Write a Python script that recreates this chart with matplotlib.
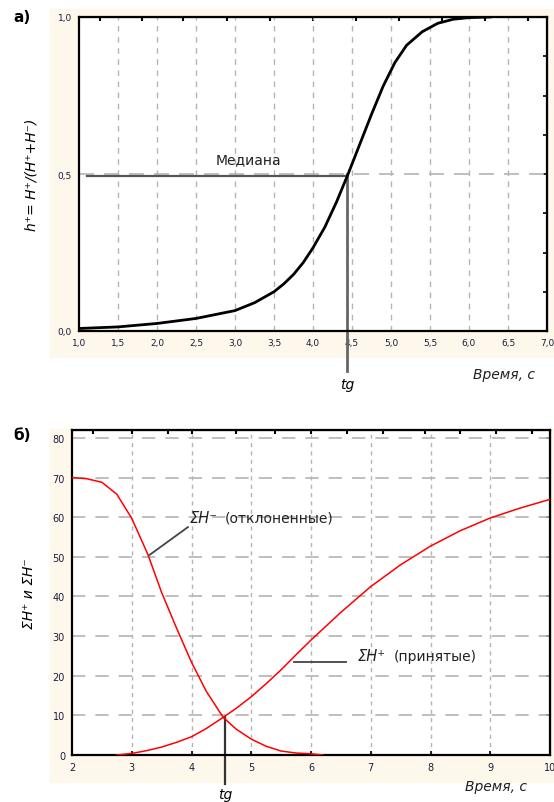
import matplotlib.pyplot as plt
from matplotlib.patches import Rectangle

# панель а) - доля принятых гипотез
t_a = [1.0, 1.5, 2.0, 2.5, 3.0, 3.25, 3.5, 3.625, 3.75, 3.875, 4.0, 4.15, 4.3, 4.45,
       4.6, 4.75, 4.9, 5.05, 5.2, 5.4, 5.6, 5.8, 6.0, 6.27]
h_a = [0.008, 0.013, 0.024, 0.04, 0.065, 0.09, 0.125, 0.15, 0.18, 0.218, 0.265, 0.33,
       0.41, 0.5, 0.595, 0.69, 0.78, 0.855, 0.91, 0.953, 0.98, 0.993, 0.998, 1.0]
tg_a = 4.44
xt_a = [1.0, 1.5, 2.0, 2.5, 3.0, 3.5, 4.0, 4.5, 5.0, 5.5, 6.0, 6.5, 7.0]
yt_a = [0.0, 0.5, 1.0]

# панель б) - суммы отклонённых и принятых
t_rej = [2.0, 2.25, 2.5, 2.75, 3.0, 3.27, 3.5, 3.75, 4.0, 4.25, 4.53, 4.75,
         5.0, 5.25, 5.5, 5.75, 6.0, 6.2]
s_rej = [70, 69.7, 68.8, 65.8, 59.7, 50.6, 41, 32, 23.4, 16, 9.5, 6.5,
         4, 2.2, 1, 0.5, 0.3, 0.0]
t_acc = [2.75, 3.0, 3.25, 3.5, 3.75, 4.0, 4.25, 4.53, 4.75, 5.0, 5.25, 5.5,
         5.75, 6.0, 6.5, 7.0, 7.5, 8.0, 8.5, 9.0, 9.5, 10.0]
s_acc = [0, 0.4, 1.1, 2, 3.2, 4.6, 6.7, 9.5, 11.8, 14.7, 18, 21.5,
         25.3, 29, 36, 42.5, 48, 52.7, 56.6, 59.8, 62.3, 64.5]
tg_b = 4.56
xt_b = [2, 3, 4, 5, 6, 7, 8, 9, 10]
yt_b = [0, 10, 20, 30, 40, 50, 60, 70, 80]

cream = '#fdf7ec'
tick_col = '#1c1c3c'
grid_col = '#b4b4b4'

fig = plt.figure(figsize=(5.54, 8.03), dpi=100)
W, H = 554, 803

# кремовые подложки под подписи осей
fig.patches.append(Rectangle((50 / W, 1 - 358 / H), 504 / W, 348 / H,
                             transform=fig.transFigure, color=cream, zorder=-5))
fig.patches.append(Rectangle((50 / W, 1 - 783 / H), 504 / W, 353 / H,
                             transform=fig.transFigure, color=cream, zorder=-5))

def comma(v):
    return ('%.1f' % v).replace('.', ',')

# ---------- а) ----------
ax1 = fig.add_axes([79 / W, 1 - 332 / H, 468 / W, 314 / H])
ax1.set_facecolor('white')
ax1.set_xlim(1, 7)
ax1.set_ylim(0, 1)
for x in xt_a[1:-1]:
    ax1.axvline(x, color=grid_col, lw=1, ls=(0, (4, 4)), zorder=1)
ax1.axhline(0.5, color=grid_col, lw=1.2, ls=(0, (9, 6)), zorder=1)
ax1.plot(t_a, h_a, color='black', lw=2, zorder=3)
ax1.plot([1.1, tg_a], [0.494, 0.494], color='#555555', lw=1.6, zorder=2)
ax1.plot([tg_a, tg_a], [0.5, -0.127], color='#666666', lw=2, zorder=2, clip_on=False)
ax1.set_xticks(xt_a)
ax1.set_xticklabels([comma(v) for v in xt_a])
ax1.set_yticks(yt_a)
ax1.set_yticklabels([comma(v) for v in yt_a])
ax1.tick_params(labelsize=6.5, labelcolor=tick_col, length=0, pad=5)
for s in ax1.spines.values():
    s.set_linewidth(1.6)
ax1.text(2.75, 0.535, 'Медиана', fontsize=10, color='#222222')
ax1.text(tg_a, -0.145, 'tg', fontsize=10, style='italic', ha='center', va='top')
ax1.text(6.45, -0.115, 'Время, с', fontsize=10, style='italic', ha='center', va='top',
         color='#222222')
ax1.set_ylabel('h⁺= H⁺/(H⁺+H⁻)', fontsize=10, style='italic', labelpad=14)
# мелкие засечки сверху и справа
tx1 = ax1.secondary_xaxis('top')
tx1.set_xticks([1.27, 1.81, 2.33, 2.9, 3.45, 4.0, 4.55, 5.1, 5.65, 6.2, 6.75])
tx1.tick_params(direction='in', length=3, width=1.5, labeltop=False)
ty1 = ax1.secondary_yaxis('right')
ty1.set_yticks([0.125, 0.25, 0.375, 0.5, 0.625, 0.75, 0.875])
ty1.tick_params(direction='in', length=3, width=1.2, labelright=False)
fig.text(13 / W, 1 - 18 / H, 'а)', fontsize=11, fontweight='bold', va='center')

# ---------- б) ----------
ax2 = fig.add_axes([72 / W, 1 - 756 / H, 478 / W, 325 / H])
ax2.set_facecolor('white')
ax2.set_xlim(2, 10)
ax2.set_ylim(0, 82)
for x in xt_b[1:-1]:
    ax2.axvline(x, color=grid_col, lw=1, ls=(0, (3, 3)), zorder=1)
for y in yt_b[1:]:
    ax2.axhline(y, color=grid_col, lw=1.2, ls=(0, (8, 6)), zorder=1)
ax2.plot(t_rej, s_rej, color='red', lw=1.1, zorder=3)
ax2.plot(t_acc, s_acc, color='red', lw=1.1, zorder=3)
ax2.plot([tg_b, tg_b], [9.5, -7.3], color='#333333', lw=1.6, zorder=2, clip_on=False)
ax2.plot([3.3, 3.94], [50.5, 57.5], color='#444444', lw=1.3, zorder=4)
ax2.plot([5.71, 6.58], [23.5, 23.5], color='#444444', lw=1.3, zorder=4)
ax2.text(3.97, 60.0, 'ΣH⁻', fontsize=10.5, style='italic', va='center', color='#222222')
ax2.text(4.55, 60.0, '(отклоненные)', fontsize=10, va='center', color='#222222')
ax2.text(6.78, 25.0, 'ΣH⁺', fontsize=10.5, style='italic', va='center', color='#222222')
ax2.text(7.38, 25.0, '(принятые)', fontsize=10, va='center', color='#222222')
ax2.set_xticks(xt_b)
ax2.set_yticks(yt_b)
ax2.tick_params(labelsize=7, labelcolor=tick_col, length=0, pad=5)
ax2.tick_params(axis='x', direction='in', length=3, width=1.2)
for s in ax2.spines.values():
    s.set_linewidth(1.6)
ax2.text(tg_b, -8.0, 'tg', fontsize=10, style='italic', ha='center', va='top')
ax2.text(9.1, -6.0, 'Время, с', fontsize=10, style='italic', ha='center', va='top',
         color='#222222')
ax2.set_ylabel('ΣH⁺ и ΣH⁻', fontsize=10, style='italic', labelpad=12)
tx2 = ax2.secondary_xaxis('top')
tx2.set_xticks([2.35, 3.0, 3.6, 4.0, 4.75, 5.4, 6.0, 6.6, 7.2, 7.9, 8.5, 9.1, 9.7])
tx2.tick_params(direction='in', length=3, width=1.5, labeltop=False)
ty2 = ax2.secondary_yaxis('right')
ty2.set_yticks(yt_b)
ty2.tick_params(direction='in', length=3, width=1.2, labelright=False)
fig.text(13 / W, 1 - 436 / H, 'б)', fontsize=11, fontweight='bold', va='center')

fig.savefig('out.png', dpi=100)
